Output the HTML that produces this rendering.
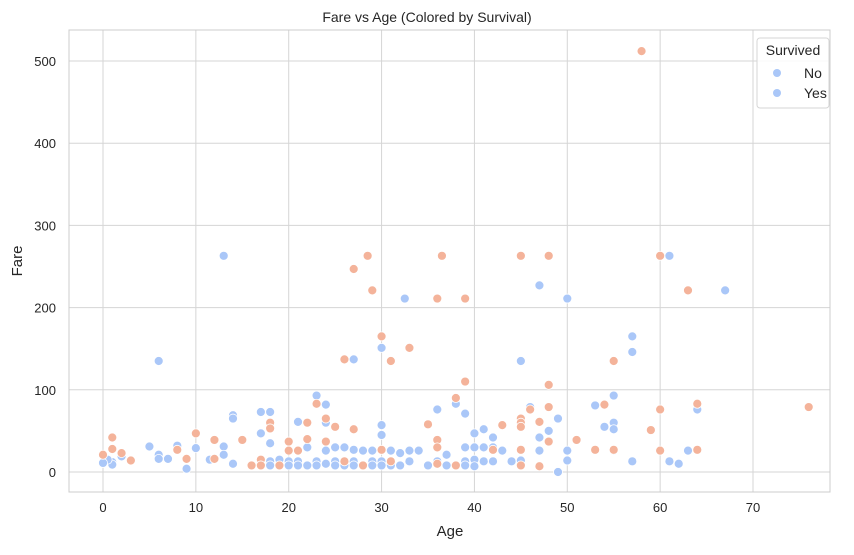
<!DOCTYPE html>
<html><head><meta charset="utf-8"><style>
body{margin:0;background:#fff;}
svg text{font-family:"Liberation Sans","DejaVu Sans",sans-serif;fill:#262626;}
</style></head><body>
<svg id="chart" width="854" height="550" xmlns="http://www.w3.org/2000/svg">
<rect x="0" y="0" width="854" height="550" fill="#fff"/>
<g id="grid"></g>
<g id="ticks"></g>
<g id="points"></g>
<rect x="69" y="30" width="761" height="462" fill="none" stroke="#cccccc" stroke-width="1"/>
<text x="427" y="22" text-anchor="middle" font-size="14">Fare vs Age (Colored by Survival)</text>
<text x="450" y="536" text-anchor="middle" font-size="15">Age</text>
<text x="22" y="261" text-anchor="middle" font-size="15" transform="rotate(-90 22 261)">Fare</text>
<g>
<rect x="757" y="38" width="72" height="70" rx="3" fill="#fff" fill-opacity="0.85" stroke="#d6d6d6"/>
<text x="793" y="55" text-anchor="middle" font-size="14">Survived</text>
<circle cx="777" cy="73" r="4" fill="#aac7f8"/>
<text x="804" y="78" font-size="14">No</text>
<circle cx="777" cy="93" r="4" fill="#aac7f8"/>
<text x="804" y="98" font-size="14">Yes</text>
</g>
</svg>
<script>
const xTicks=[0,10,20,30,40,50,60,70];
const yTicks=[0,100,200,300,400,500];
const noAges=[13,6,32.5,30,27,47,50,45,61,67,57,57,64,61,62,63,57,55,55,55,55,53,54,50,50,49,49,48,47,47,46,45,44,43,42,42,42,41,41,41,40,40,40,40,39,39,39,39,38,37,37,36,36,35,34,33,33,32,32,31,31,30,30,30,30,29,29,29,28,27,27,27,26,26,25,25,25,24,24,24,24,23,23,23,22,22,21,21,21,20,20,19,18,18,18,18,17,17,14,14,14,13,13,11.5,10,9,8,7,6,6,5,2,1,1,0.5,0];
const noFares=[263,135,211,151,137,227,211,135,263,221,165,146,76,13,10,26,13,93,60,52,26,81,55,26,14,0,65,50,42,26,79,14,13,26,42,30,13,52,30,13,47,30,15,7,71,30,13,8,83,21,8,76,13,8,26,26,13,23,8,26,8,57,45,13,8,26,13,8,26,27,13,8,30,8,30,13,8,82,60,26,10,93,13,8,30,8,61,13,8,13,8,15,73,35,13,8,73,47,69,65,10,31,21,15,29,4,32,16,21,16,31,19,12,9,15,11];
const yesAges=[58,27,28.5,29,36,36.5,39,30,31,33,26,45,48,60,63,55,76,64,60,59,60,64,55,54,53,51,48,48,48,47,47,46,45,45,45,45,45,43,42,39,38,38,36,36,36,35,31,30,28,27,26,25,24,24,23,22,22,21,20,20,19,18,18,17,17,16,15,12,12,10,9,8,3,2,1,1,0];
const yesFares=[512,247,263,221,211,263,211,165,135,151,137,263,263,263,221,135,79,83,76,51,26,27,27,82,27,39,106,79,37,61,7,76,65,60,55,27,8,57,27,110,90,8,39,30,10,58,13,27,8,52,13,55,65,37,83,60,40,26,37,26,8,60,53,15,8,8,39,39,16,47,16,27,14,23,42,28,21];
const NS='http://www.w3.org/2000/svg';
function xs(v){return 103+v*(650/70);}
function ys(v){return 472-v*0.822;}
const grid=document.getElementById('grid'),ticks=document.getElementById('ticks'),pts=document.getElementById('points');
xTicks.forEach(t=>{
 const l=document.createElementNS(NS,'line');
 
 
 l.setAttribute('x1',xs(t));l.setAttribute('x2',xs(t));l.setAttribute('y1',30);l.setAttribute('y2',492);
 l.setAttribute('stroke','#d5d5d5');grid.appendChild(l);
 const tx=document.createElementNS(NS,'text');
 
 
 tx.setAttribute('x',xs(t));tx.setAttribute('y',512);tx.setAttribute('text-anchor','middle');tx.setAttribute('font-size','13');
 tx.textContent=t;ticks.appendChild(tx);
});
yTicks.forEach(t=>{
 const l=document.createElementNS(NS,'line');
 
 
 l.setAttribute('x1',69);l.setAttribute('x2',830);l.setAttribute('y1',ys(t));l.setAttribute('y2',ys(t));
 l.setAttribute('stroke','#d5d5d5');grid.appendChild(l);
 const tx=document.createElementNS(NS,'text');
 
 
 tx.setAttribute('x',56);tx.setAttribute('y',ys(t)+5);tx.setAttribute('text-anchor','end');tx.setAttribute('font-size','13');
 tx.textContent=t;ticks.appendChild(tx);
});
function drawSeries(ag,fa,color,name){
 ag.forEach((a,i)=>{
  const c=document.createElementNS(NS,'circle');
  
  
  c.setAttribute('cx',xs(a));c.setAttribute('cy',ys(fa[i]));c.setAttribute('r',4.5);
  c.setAttribute('fill',color);
  c.setAttribute('stroke','#fff');c.setAttribute('stroke-width','0.8');
  pts.appendChild(c);
 });
}
drawSeries(noAges,noFares,'#aac7f8','point-not-survived');
drawSeries(yesAges,yesFares,'#f4b39a','point-survived');
</script>
</body></html>
